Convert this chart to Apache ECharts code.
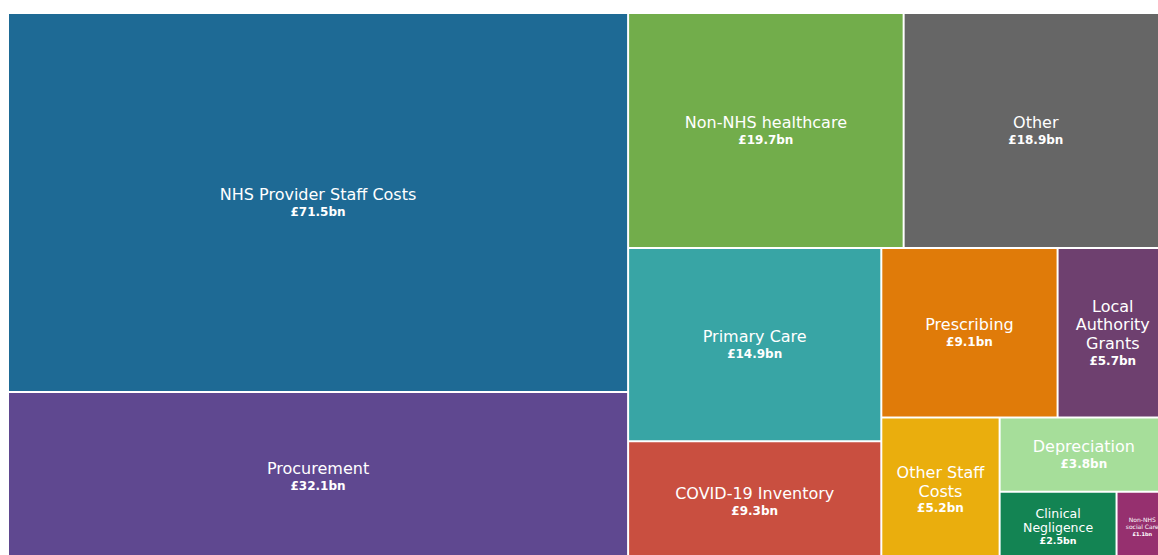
<!DOCTYPE html>
<html>
<head>
<meta charset="utf-8">
<script src="https://cdn.jsdelivr.net/npm/echarts@6/dist/echarts.min.js"></script>
<style>
html,body{margin:0;padding:0;background:#ffffff;overflow:hidden}
#chart{width:1158px;height:555px}
</style>
</head>
<body>
<div id="chart"></div>
<script>
// ---- data ----
const categories = [
  'NHS Provider Staff Costs', 'Procurement', 'Non-NHS healthcare', 'Other',
  'Primary Care', 'COVID-19 Inventory', 'Prescribing', 'Local Authority Grants',
  'Other Staff Costs', 'Depreciation', 'Clinical Negligence', 'Non-NHS social Care'
];
const values = [71.5, 32.1, 19.7, 18.9, 14.9, 9.3, 9.1, 5.7, 5.2, 3.8, 2.5, 1.1];
const colors = [
  '#1E6A95', '#5F4890', '#72AD4B', '#666666',
  '#38A5A5', '#C94F40', '#E07B09', '#6E406F',
  '#EAAE0D', '#A6DE9A', '#138453', '#96306F'
];
// how the category names wrap inside their boxes
const labelLines = [
  ['NHS Provider Staff Costs'], ['Procurement'], ['Non-NHS healthcare'], ['Other'],
  ['Primary Care'], ['COVID-19 Inventory'], ['Prescribing'], ['Local', 'Authority', 'Grants'],
  ['Other Staff', 'Costs'], ['Depreciation'], ['Clinical', 'Negligence'], ['Non-NHS', 'social Care']
];
// grouping of the tiles (indices into categories) that reproduces the original tiling
const nesting = [[0, 1], [2, 3, [4, 5, [6, 7, [8, [9, [10, 11]]]]]]];

// ---- styles ----
const FONT = 'DejaVu Sans';
const textStyles = {
  normal: { n: { fontSize: 16, lineHeight: 18.5 }, v: { fontSize: 12, lineHeight: 16 } },
  small:  { n: { fontSize: 12.5, lineHeight: 13.5 }, v: { fontSize: 9.5, lineHeight: 13 } },
  tiny:   { n: { fontSize: 6, lineHeight: 7 }, v: { fontSize: 5, lineHeight: 8 } }
};
const sizeOf = i => (i === 10 ? 'small' : i === 11 ? 'tiny' : 'normal');
const textHeight = i => {
  const st = textStyles[sizeOf(i)];
  return labelLines[i].length * st.n.lineHeight + st.v.lineHeight;
};

const leaves = {};
function leaf(i) {
  const st = textStyles[sizeOf(i)];
  const txt = labelLines[i].map(l => '{n|' + l + '}').join('\n') +
              '\n{v|£' + values[i].toFixed(1) + 'bn}';
  const node = {
    name: categories[i],
    value: values[i],
    itemStyle: { color: colors[i], borderColor: '#ffffff', borderWidth: 1 },
    label: {
      formatter: txt,
      padding: 0,
      rich: {
        n: { fontFamily: FONT, color: '#ffffff', fontSize: st.n.fontSize, lineHeight: st.n.lineHeight, align: 'center' },
        v: { fontFamily: FONT, color: '#ffffff', fontWeight: 'bold', fontSize: st.v.fontSize, lineHeight: st.v.lineHeight, align: 'center' }
      }
    }
  };
  leaves[categories[i]] = { node, i };
  return node;
}
function build(spec) {
  if (typeof spec === 'number') return leaf(spec);
  return { name: 'group', children: spec.map(build) };
}
const treeData = nesting.map(build);

const option = {
  backgroundColor: '#ffffff',
  animation: false,
  series: [{
    type: 'treemap',
    left: 8, top: 13, width: 1160, height: 549,
    squareRatio: 1.82,
    sort: false,
    roam: false,
    nodeClick: false,
    breadcrumb: { show: false },
    itemStyle: { borderWidth: 0, gapWidth: 0, borderColor: '#ffffff' },
    upperLabel: { show: false },
    label: { show: true, position: 'inside', padding: 0, overflow: 'none', color: '#ffffff', fontFamily: FONT },
    emphasis: { disabled: true },
    data: treeData
  }]
};

const chart = echarts.init(document.getElementById('chart'), null, { renderer: 'svg' });
chart.setOption(option);

// centre the labels vertically inside the tiles laid out by ECharts
const sData = chart.getModel().getSeriesByIndex(0).getData();
for (let k = 0; k < sData.count(); k++) {
  const entry = leaves[sData.getName(k)];
  const lay = sData.getItemLayout(k);
  if (!entry || !lay) continue;
  const inner = lay.height - 2 * (lay.borderWidth || 0);
  const top = Math.max(0, (inner - textHeight(entry.i)) / 2);
  entry.node.label.padding = [top, 0, 0, 0];
}
chart.setOption(option);
</script>
</body>
</html>
